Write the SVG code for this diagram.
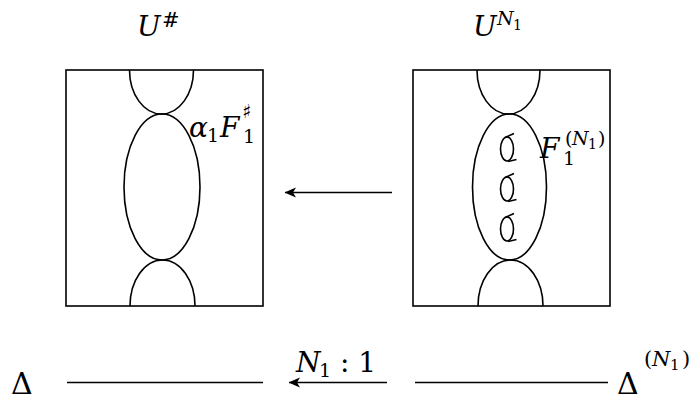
<svg xmlns="http://www.w3.org/2000/svg" xmlns:xlink="http://www.w3.org/1999/xlink" width="698" height="400" viewBox="0 0 698 400">
<style>
.ln{fill:none;stroke:#000;stroke-width:1.6}
.t{font-family:"DejaVu Serif",serif;fill:#000}
.mi{font-style:italic}
</style>
<defs>
<marker id="ah" markerUnits="userSpaceOnUse" viewBox="-12 -6 13 12" refX="0" refY="0" markerWidth="13" markerHeight="12" orient="auto">
<path d="M0,0 C-3,-1.5 -7,-3.5 -11,-5 L-8,0 L-11,5 C-7,3.5 -3,1.5 0,0 Z" fill="#000"/>
</marker>
<g id="loop" class="ln">
<ellipse cx="0" cy="0" rx="6.5" ry="12"/>
<path d="M7,-15.5 L-2,-11.5 M9.5,10.5 L1,12.5"/>
</g>
</defs>
<rect width="698" height="400" fill="#fff"/>

<g id="title-left">
<text class="t mi" x="137" y="36" font-size="28">U</text>
<text class="t" x="162" y="27" font-size="21">#</text>
</g>
<g id="title-right">
<text class="t mi" x="473" y="36" font-size="28">U</text>
<text class="t mi" x="497" y="25" font-size="19">N</text>
<text class="t" x="513" y="30" font-size="14">1</text>
</g>

<g id="box-left">
<rect class="ln" x="66" y="70" width="197" height="236"/>
<path class="ln" d="M129.5,70 A32,44 0 0 0 193.5,70"/>
<ellipse class="ln" cx="162" cy="187" rx="38" ry="73"/>
<path class="ln" d="M130,306 A32.5,46 0 0 1 195,306"/>
<text class="t mi" x="189" y="137" font-size="28">α</text>
<text class="t" x="207" y="142" font-size="19">1</text>
<text class="t mi" x="220" y="137" font-size="28">F</text>
<text class="t" x="242" y="118" font-size="19">♯</text>
<text class="t" x="243" y="143" font-size="19">1</text>
</g>

<g id="box-right">
<rect class="ln" x="413" y="70" width="197" height="236"/>
<path class="ln" d="M477,70 A31.5,44 0 0 0 540,70"/>
<ellipse class="ln" cx="509.5" cy="187" rx="37" ry="73"/>
<path class="ln" d="M478,306 A32.5,46 0 0 1 543,306"/>
<use xlink:href="#loop" x="507" y="149"/>
<use xlink:href="#loop" x="507" y="189"/>
<use xlink:href="#loop" x="507" y="229"/>
<text class="t mi" x="540" y="158" font-size="28">F</text>
<text class="t" x="565" y="145" font-size="19">(</text>
<text class="t mi" x="572" y="145" font-size="19">N</text>
<text class="t" x="588" y="149" font-size="14">1</text>
<text class="t" x="598" y="145" font-size="19">)</text>
<text class="t" x="563" y="165" font-size="19">1</text>
</g>

<g id="delta-left">
<text class="t" x="11" y="394" font-size="30">Δ</text>
</g>
<g id="delta-right">
<text class="t" x="617" y="394" font-size="30">Δ</text>
<text class="t" x="644" y="366" font-size="21">(</text>
<text class="t mi" x="652" y="366" font-size="21">N</text>
<text class="t" x="670" y="370" font-size="15">1</text>
<text class="t" x="682" y="366" font-size="21">)</text>
</g>

<g id="connectors">
<line class="ln" x1="392" y1="192.5" x2="285" y2="192.5" marker-end="url(#ah)"/>
<line class="ln" x1="67" y1="382.5" x2="263" y2="382.5"/>
<line class="ln" x1="387" y1="382.5" x2="289" y2="382.5" marker-end="url(#ah)"/>
<line class="ln" x1="415" y1="382.5" x2="608" y2="382.5"/>
<g id="label-ratio">
<text class="t mi" x="296" y="372" font-size="28">N</text>
<text class="t" x="319" y="377" font-size="19">1</text>
<text class="t" x="340" y="372" font-size="28">: 1</text>
</g>
</g>
</svg>
